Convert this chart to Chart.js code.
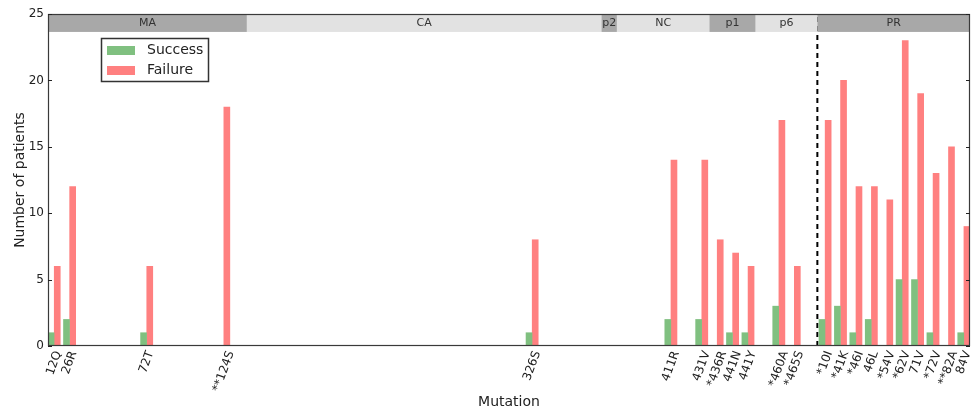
<!DOCTYPE html>
<html>
<head>
<meta charset="utf-8">
<script src="https://cdn.jsdelivr.net/npm/chart.js@4/dist/chart.umd.min.js"></script>
<style>
  html, body { margin: 0; padding: 0; background: #ffffff; }
  #wrap { width: 974px; height: 411px; }
</style>
</head>
<body>
<div id="wrap"><canvas id="chart" width="974" height="411"></canvas></div>
<script>
// Mutations, in genome order, with their slot along the Gag/PR axis
const mutations = ["12Q", "26R", "72T", "**124S", "326S", "411R", "431V", "*436R", "441N", "441Y",
                   "*460A", "*465S", "*10I", "*41K", "*46I", "46L", "*54V", "*62V", "71V", "*72V", "**82A", "84V"];
const slots     = [0, 1, 6, 11, 31, 40, 42, 43, 44, 45, 47, 48, 50, 51, 52, 53, 54, 55, 56, 57, 58, 59];

// Number of patients per outcome
const success = [1, 2, 1, 0, 1, 2, 2, 0, 1, 1, 3, 0, 2, 3, 1, 2, 0, 5, 5, 1, 0, 1];
const failure = [6, 12, 6, 18, 8, 14, 14, 8, 7, 6, 17, 6, 17, 20, 12, 12, 11, 23, 19, 13, 15, 9];

// Protein regions along the axis (boundaries in slot units)
const genes      = ["MA", "CA", "p2", "NC", "p1", "p6", "PR"];
const geneBounds = [0, 13, 36, 37, 43, 46, 50, 60];
const xRange     = [0.1, 59.9];
const yTicks     = [0, 5, 10, 15, 20, 25];

const GREEN = "#80c080";
const RED = "#ff8080";
const DARK_BAND = "#a8a8a8";
const LIGHT_BAND = "#e2e2e2";
const LABEL_ANGLE = 70 * Math.PI / 180;

Chart.defaults.font.family = "'DejaVu Sans', sans-serif";
Chart.defaults.color = "#222222";

const tickCentres = slots.map(s => s + 0.5);

// Gene region strip across the top, dashed Gag/PR divider, frame, tick labels and legend
const decorations = {
  id: "decorations",
  beforeDatasetsDraw(chart) {
    const { ctx, chartArea: a, scales: { x } } = chart;
    ctx.save();
    // dashed divider at the start of PR
    const xd = x.getPixelForValue(geneBounds[6]);
    ctx.strokeStyle = "#000000";
    ctx.lineWidth = 2;
    ctx.setLineDash([5, 4]);
    ctx.beginPath();
    ctx.moveTo(xd, a.bottom);
    ctx.lineTo(xd, a.top);
    ctx.stroke();
    ctx.restore();
  },
  afterDatasetsDraw(chart) {
    const { ctx, chartArea: a, scales: { x, y } } = chart;
    ctx.save();
    const yTop = y.getPixelForValue(25);
    const yBot = y.getPixelForValue(23.65);
    ctx.font = "11px 'DejaVu Sans'";
    ctx.textAlign = "center";
    ctx.textBaseline = "middle";
    for (let i = 0; i < genes.length; i++) {
      const x0 = Math.max(a.left, x.getPixelForValue(geneBounds[i]));
      const x1 = Math.min(a.right, x.getPixelForValue(geneBounds[i + 1]));
      ctx.fillStyle = i % 2 === 0 ? DARK_BAND : LIGHT_BAND;
      ctx.fillRect(x0, yTop, x1 - x0, yBot - yTop);
      ctx.fillStyle = "#333333";
      ctx.fillText(genes[i], (x0 + x1) / 2, (yTop + yBot) / 2 + 0.5);
    }

    // frame
    ctx.strokeStyle = "#3a3a3a";
    ctx.lineWidth = 1.2;
    ctx.strokeRect(a.left + 0.5, a.top + 0.5, a.right - a.left - 1, a.bottom - a.top - 1);

    // inward y ticks
    ctx.lineWidth = 1;
    ctx.strokeStyle = "#222222";
    yTicks.forEach(v => {
      const py = Math.round(y.getPixelForValue(v)) + 0.5;
      ctx.beginPath();
      ctx.moveTo(a.left, py); ctx.lineTo(a.left + 4, py);
      ctx.moveTo(a.right, py); ctx.lineTo(a.right - 4, py);
      ctx.stroke();
    });

    // rotated mutation labels, centred under each tick
    ctx.font = "12px 'DejaVu Sans'";
    ctx.fillStyle = "#222222";
    ctx.textAlign = "center";
    ctx.textBaseline = "middle";
    const h = 9;
    x.ticks.forEach((t, i) => {
      const label = mutations[i];
      const L = ctx.measureText(label).width;
      const H = L * Math.sin(LABEL_ANGLE) + h * Math.cos(LABEL_ANGLE);
      const px = x.getPixelForValue(t.value);
      ctx.save();
      ctx.translate(px, a.bottom + 4 + H / 2);
      ctx.rotate(-LABEL_ANGLE);
      ctx.fillText(label, 0, 0);
      ctx.restore();
    });

    // legend
    const lx = a.left + 53, ly = a.top + 24, lw = 107, lh = 43;
    ctx.fillStyle = "#ffffff";
    ctx.fillRect(lx, ly, lw, lh);
    ctx.strokeStyle = "#333333";
    ctx.lineWidth = 1.5;
    ctx.strokeRect(lx + 0.5, ly + 0.5, lw, lh);
    chart.data.datasets.forEach((ds, i) => {
      const ry = ly + 8 + i * 20;
      ctx.fillStyle = ds.backgroundColor;
      ctx.fillRect(lx + 6, ry, 28, 9);
      ctx.fillStyle = "#222222";
      ctx.font = "14px 'DejaVu Sans'";
      ctx.textAlign = "left";
      ctx.textBaseline = "middle";
      ctx.fillText(ds.label, lx + 46, ry + 4.5);
    });
    ctx.restore();
  }
};

new Chart(document.getElementById("chart"), {
  type: "bar",
  data: {
    datasets: [
      {
        label: "Success",
        data: slots.map((s, i) => ({ x: s + 0.3, y: success[i] })),
        backgroundColor: GREEN,
        barThickness: 6,
        grouped: false
      },
      {
        label: "Failure",
        data: slots.map((s, i) => ({ x: s + 0.7, y: failure[i] })),
        backgroundColor: RED,
        barThickness: 6,
        grouped: false
      }
    ]
  },
  options: {
    responsive: false,
    animation: false,
    devicePixelRatio: 1,
    layout: { padding: { top: 14, right: 4, left: 0, bottom: 0 } },
    plugins: { legend: { display: false }, tooltip: { enabled: false } },
    scales: {
      x: {
        type: "linear",
        min: xRange[0],
        max: xRange[1],
        offset: false,
        grid: { display: false, drawTicks: false },
        border: { display: false },
        afterBuildTicks: scale => { scale.ticks = tickCentres.map(v => ({ value: v })); },
        afterFit: scale => { scale.height = 65; scale.paddingLeft = 0; scale.paddingRight = 0; },
        ticks: { display: false, autoSkip: false },
        title: { display: true, text: "Mutation", font: { size: 14 }, color: "#222222", padding: { top: 0, bottom: 0 } }
      },
      y: {
        min: 0,
        max: 25,
        grid: { display: false, drawTicks: false },
        border: { display: false },
        afterBuildTicks: scale => { scale.ticks = yTicks.map(v => ({ value: v })); },
        afterFit: scale => { scale.width = 48; },
        ticks: { padding: 4, font: { size: 12 }, color: "#222222" },
        title: { display: true, text: "Number of patients", font: { size: 14 }, color: "#222222", padding: { top: 12, bottom: 0 } }
      }
    }
  },
  plugins: [decorations]
});
</script>
</body>
</html>
